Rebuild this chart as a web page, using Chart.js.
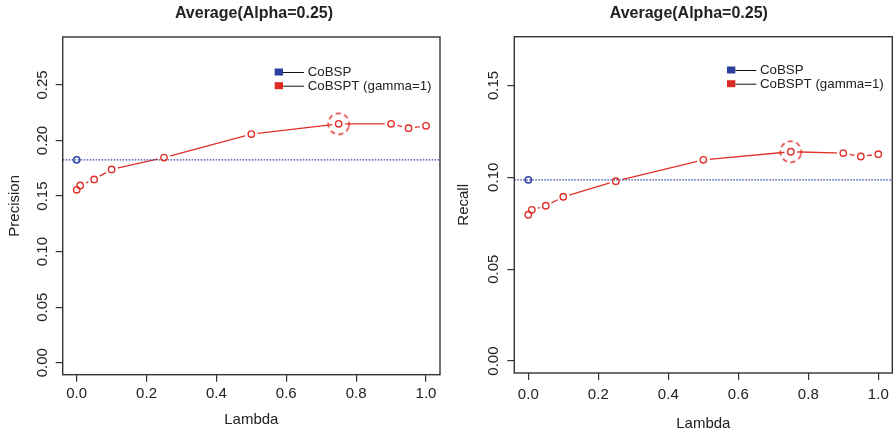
<!DOCTYPE html>
<html>
<head>
<meta charset="utf-8">
<script src="https://cdn.jsdelivr.net/npm/chart.js@4.4.1/dist/chart.umd.min.js"></script>
<style>
html, body { margin: 0; padding: 0; background: #fff; overflow: hidden; }
#wrap { position: relative; width: 896px; height: 436px; }
canvas { position: absolute; top: 0; }
</style>
</head>
<body>
<div id="wrap">
    <canvas id="precisionChart" width="448" height="436" style="left:0"></canvas>
    <canvas id="recallChart" width="448" height="436" style="left:448px"></canvas>
</div>
<script>
const lambdas = [0, 0.01, 0.05, 0.1, 0.25, 0.5, 0.75, 0.9, 0.95, 1.0];
const cobsptPrecision = [0.1556, 0.1595, 0.165, 0.174, 0.1847, 0.2058, 0.215, 0.215, 0.2111, 0.2132];
const cobsptRecall = [0.0796, 0.0823, 0.0845, 0.0894, 0.0979, 0.1095, 0.1139, 0.1132, 0.1113, 0.1126];
const cobspPrecision = 0.1826;
const cobspRecall = 0.0986;
const bestIndex = 6;
const lambdaTicks = [0, 0.2, 0.4, 0.6, 0.8, 1.0];
const precisionTicks = [0, 0.05, 0.10, 0.15, 0.20, 0.25];
const recallTicks = [0, 0.05, 0.10, 0.15];
const seriesNames = ['CoBSP', 'CoBSPT (gamma=1)'];
const chartTitle = 'Average(Alpha=0.25)';
const lambdaMin = -0.04;
const lambdaMax = 1.04;

const red = '#e0302a';
const blue = '#3346a6';
const legendColors = ['#2a3f9e', '#dd2a22'];
const textColor = '#222';
const fontFamily = '"Liberation Sans", Arial, Helvetica, sans-serif';

function dashedRing(radius, color) {
    const size = Math.ceil(radius * 2 + 4);
    const c = document.createElement('canvas');
    c.width = size;
    c.height = size;
    const g = c.getContext('2d');
    g.strokeStyle = color;
    g.lineWidth = 1.5;
    g.setLineDash([5, 3.6]);
    g.beginPath();
    g.arc(size / 2, size / 2, radius, 0.3, 0.3 + Math.PI * 2);
    g.stroke();
    return c;
}

const panelDecor = {
    id: 'panelDecor',
    afterDraw(chart, args, opts) {
        const { ctx, chartArea: a } = chart;
        ctx.save();
        ctx.strokeStyle = '#333';
        ctx.lineWidth = 1.4;
        ctx.strokeRect(a.left, a.top, a.right - a.left, a.bottom - a.top);

        ctx.fillStyle = textColor;
        ctx.font = 'bold 16px ' + fontFamily;
        ctx.textAlign = 'center';
        ctx.textBaseline = 'middle';
        ctx.fillText(chartTitle, (a.left + a.right) / 2 + opts.titleShift, 14);

        ctx.font = '13.3px ' + fontFamily;
        ctx.textAlign = 'left';
        seriesNames.forEach(function (name, i) {
            const y = a.top + opts.legendTop + i * 13.7;
            ctx.fillStyle = legendColors[i];
            ctx.fillRect(a.right - 165.3, y - 3.5, 8.3, 7);
            ctx.strokeStyle = '#111';
            ctx.lineWidth = 1;
            ctx.beginPath();
            ctx.moveTo(a.right - 157, y + 0.5);
            ctx.lineTo(a.right - 136, y + 0.5);
            ctx.stroke();
            ctx.fillStyle = textColor;
            ctx.fillText(name, a.right - 132.3, y + 0.5);
        });
        ctx.restore();
    },
};

function buildPanel(canvasId, cfg) {
    const canvas = document.getElementById(canvasId);
    const W = canvas.width, H = canvas.height;
    const points = cfg.values.map((v, i) => ({ x: lambdas[i], y: v }));
    const axisFont = { family: fontFamily, size: 15 };
    const tickGrid = { display: true, drawOnChartArea: false, drawTicks: true, tickLength: 7, color: '#333', tickColor: '#333', lineWidth: 1.2 };

    new Chart(canvas, {
        type: 'scatter',
        data: {
            datasets: [
                { data: points, showLine: true, borderColor: red, borderWidth: 1.3, pointRadius: 0, order: 5 },
                { data: points, showLine: false, pointRadius: 6.5, pointBackgroundColor: '#fff', pointBorderColor: '#fff', pointBorderWidth: 0, order: 4 },
                {
                    data: [{ x: lambdaMin, y: cfg.baseline }, { x: lambdaMax, y: cfg.baseline }],
                    showLine: true, borderColor: blue, borderWidth: 1.2, borderDash: [1.5, 1.5], pointRadius: 0, order: 3,
                },
                { data: points, showLine: false, pointRadius: 3.2, pointBorderWidth: 1.4, borderColor: red, pointBorderColor: red, pointBackgroundColor: 'rgba(0,0,0,0)', order: 2 },
                { data: [{ x: lambdas[0], y: cfg.baseline }], showLine: false, pointRadius: 3.2, pointBorderWidth: 1.5, borderColor: blue, pointBorderColor: blue, pointBackgroundColor: 'rgba(0,0,0,0)', order: 2 },
                { data: [points[bestIndex]], showLine: false, pointRadius: 10.5, pointStyle: dashedRing(10.5, red), order: 1 },
            ],
        },
        options: {
            responsive: false,
            animation: false,
            events: [],
            layout: { autoPadding: false, padding: { left: 0, top: cfg.area.top, right: W - cfg.area.right, bottom: 0 } },
            plugins: {
                legend: { display: false },
                tooltip: { enabled: false },
                panelDecor: { titleShift: cfg.titleShift, legendTop: cfg.legendTop },
            },
            scales: {
                x: {
                    type: 'linear',
                    min: lambdaMin,
                    max: lambdaMax,
                    afterBuildTicks: scale => { scale.ticks = lambdaTicks.map(v => ({ value: v })); },
                    afterFit: scale => { scale.height = H - cfg.area.bottom; },
                    ticks: { autoSkip: false, maxRotation: 0, padding: cfg.xTickPad, color: textColor, font: axisFont, callback: v => v.toFixed(1) },
                    grid: tickGrid,
                    border: { display: false },
                    title: { display: true, text: 'Lambda', color: textColor, font: axisFont, padding: { top: 0, bottom: cfg.xTitlePad } },
                },
                y: {
                    type: 'linear',
                    min: cfg.yMin,
                    max: cfg.yMax,
                    afterBuildTicks: scale => { scale.ticks = cfg.yTicks.map(v => ({ value: v })); },
                    afterFit: scale => { scale.width = cfg.area.left; },
                    ticks: { autoSkip: false, minRotation: 90, maxRotation: 90, crossAlign: 'center', padding: -1.4, color: textColor, font: axisFont, callback: v => v.toFixed(2) },
                    grid: tickGrid,
                    border: { display: false },
                    title: { display: true, text: cfg.yLabel, color: textColor, font: axisFont, padding: { top: cfg.yTitlePad, bottom: 0 } },
                },
            },
        },
        plugins: [panelDecor],
    });
}

buildPanel('precisionChart', {
    values: cobsptPrecision,
    baseline: cobspPrecision,
    yLabel: 'Precision',
    yTicks: precisionTicks,
    yMin: -0.0108,
    yMax: 0.2932,
    area: { left: 62.7, top: 37, right: 440, bottom: 374.7 },
    titleShift: 2.6,
    legendTop: 35,
    xTickPad: 3.5,
    xTitlePad: 7,
    yTitlePad: 5.5,
});

buildPanel('recallChart', {
    values: cobsptRecall,
    baseline: cobspRecall,
    yLabel: 'Recall',
    yTicks: recallTicks,
    yMin: -0.0065,
    yMax: 0.1765,
    area: { left: 66.3, top: 36.7, right: 444.3, bottom: 373 },
    titleShift: -14.5,
    legendTop: 33.3,
    xTickPad: 6,
    xTitlePad: 3,
    yTitlePad: 6.5,
});
</script>
</body>
</html>
